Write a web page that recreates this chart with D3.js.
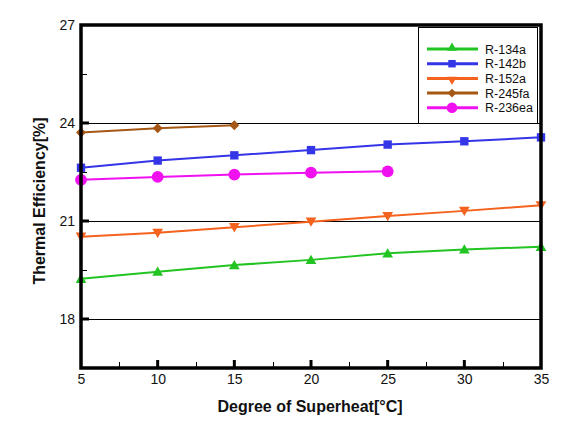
<!DOCTYPE html>
<html><head><meta charset="utf-8">
<script src="https://cdn.jsdelivr.net/npm/d3@7"></script>
<style>body{margin:0;background:#fff;font-family:Arial,"Liberation Sans",sans-serif;}</style>
</head><body>
<script>
const superheat = [5, 10, 15, 20, 25, 30, 35];
const r134a = [19.23, 19.45, 19.65, 19.81, 20.01, 20.13, 20.21];
const r142b = [22.63, 22.85, 23.01, 23.17, 23.34, 23.44, 23.56];
const r152a = [20.52, 20.64, 20.81, 20.98, 21.15, 21.31, 21.48];
const r245fa = [23.71, 23.84, 23.93];
const r236ea = [22.26, 22.35, 22.42, 22.48, 22.52];
const seriesNames = ["R-134a", "R-142b", "R-152a", "R-245fa", "R-236ea"];
const xTicks = [5, 10, 15, 20, 25, 30, 35];
const yTicks = [18, 21, 24, 27];

const W = 568, H = 422;
const L = 81, R = 541, T = 25, B = 368;
const svg = d3.select("body").append("svg").attr("width", W).attr("height", H);
const x = d3.scaleLinear().domain([5, 35]).range([L, R]);
const y = d3.scaleLinear().domain([16.5, 27]).range([B, T]);

const series = [
  {name: seriesNames[0], vals: r134a, color: "#22c422", sym: d3.symbolTriangle, size: 50, rot: 0},
  {name: seriesNames[1], vals: r142b, color: "#3535e8", sym: d3.symbolSquare, size: 70, rot: 0},
  {name: seriesNames[2], vals: r152a, color: "#f4621e", sym: d3.symbolTriangle, size: 50, rot: 180},
  {name: seriesNames[3], vals: r245fa, color: "#a55815", sym: d3.symbolSquare, size: 50, rot: 45},
  {name: seriesNames[4], vals: r236ea, color: "#f010f0", sym: d3.symbolCircle, size: 110, rot: 0}
];

// gridlines
svg.append("g").selectAll("line").data([18, 21, 24]).join("line")
  .attr("x1", L).attr("x2", R).attr("y1", d => Math.round(y(d)) + 0.5).attr("y2", d => Math.round(y(d)) + 0.5)
  .attr("stroke", "#000").attr("stroke-width", 1);

// axes with inward ticks
const xMinor = d3.range(7.5, 35, 5);
const yMinor = [19.5, 22.5, 25.5];
const gx = svg.append("g").attr("transform", `translate(0,${B})`)
  .call(d3.axisBottom(x).tickValues(xTicks).tickFormat(d3.format("d")).tickSize(0).tickPadding(6));
gx.select(".domain").remove();
gx.selectAll("text").attr("font-size", 14).attr("font-family", "Arial, Liberation Sans, sans-serif").attr("fill", "#111");
const gy = svg.append("g").attr("transform", `translate(${L},0)`)
  .call(d3.axisLeft(y).tickValues(yTicks).tickFormat(d3.format("d")).tickSize(0).tickPadding(6));
gy.select(".domain").remove();
gy.selectAll("text").attr("font-size", 14).attr("font-family", "Arial, Liberation Sans, sans-serif").attr("fill", "#111");

svg.append("g").selectAll("line").data(xTicks.slice(1, -1)).join("line")
  .attr("x1", d => x(d)).attr("x2", d => x(d)).attr("y1", B).attr("y2", B - 8)
  .attr("stroke", "#000").attr("stroke-width", 3);
svg.append("g").selectAll("line").data(xMinor).join("line")
  .attr("x1", d => Math.round(x(d)) + 0.5).attr("x2", d => Math.round(x(d)) + 0.5).attr("y1", B).attr("y2", B - 6)
  .attr("stroke", "#000").attr("stroke-width", 1);
svg.append("g").selectAll("line").data(yTicks.slice(0, -1)).join("line")
  .attr("x1", L).attr("x2", L + 8).attr("y1", d => y(d)).attr("y2", d => y(d))
  .attr("stroke", "#000").attr("stroke-width", 3);
svg.append("g").selectAll("line").data(yMinor).join("line")
  .attr("x1", L).attr("x2", L + 6).attr("y1", d => Math.round(y(d)) + 0.5).attr("y2", d => Math.round(y(d)) + 0.5)
  .attr("stroke", "#000").attr("stroke-width", 1);

// series
const line = d3.line().x(d => x(d[0])).y(d => y(d[1]));
series.forEach(s => {
  const pts = s.vals.map((v, i) => [superheat[i], v]);
  svg.append("path").datum(pts).attr("d", line).attr("fill", "none")
    .attr("stroke", s.color).attr("stroke-width", 2);
  svg.append("g").selectAll("path").data(pts).join("path")
    .attr("d", d3.symbol().type(s.sym).size(s.size))
    .attr("transform", d => `translate(${x(d[0])},${y(d[1]) + (s.sym === d3.symbolTriangle ? (s.rot ? -1 : 1) : 0)}) rotate(${s.rot})`)
    .attr("fill", s.color);
});

// legend
const lg = svg.append("g");
lg.append("rect").attr("x", 418.5).attr("y", 27.5).attr("width", 119).attr("height", 96)
  .attr("fill", "#fff").attr("stroke", "#000").attr("stroke-width", 1);
series.forEach((s, i) => {
  const yy = 49 + i * 14.7;
  lg.append("line").attr("x1", 427).attr("x2", 478).attr("y1", yy).attr("y2", yy)
    .attr("stroke", s.color).attr("stroke-width", 3);
  lg.append("path").attr("d", d3.symbol().type(s.sym).size(s.size * 0.8))
    .attr("transform", `translate(452,${yy + (s.sym === d3.symbolTriangle ? (s.rot ? 1 : -1) : 0)}) rotate(${s.rot})`)
    .attr("fill", s.color);
  lg.append("text").attr("x", 485).attr("y", yy + 4.5).text(s.name)
    .attr("font-size", 12.5).attr("fill", "#111");
});

// frame
svg.append("rect").attr("x", L).attr("y", T).attr("width", R - L).attr("height", B - T)
  .attr("fill", "none").attr("stroke", "#000").attr("stroke-width", 3.5);

// titles
svg.append("text").attr("x", 310).attr("y", 412).attr("text-anchor", "middle")
  .attr("font-size", 16).attr("font-weight", "bold").attr("fill", "#111")
  .text("Degree of Superheat[°C]");
svg.append("text").attr("transform", "translate(45,201) rotate(-90)").attr("text-anchor", "middle")
  .attr("font-size", 16).attr("font-weight", "bold").attr("fill", "#111")
  .text("Thermal Efficiency[%]");
</script>
</body></html>
